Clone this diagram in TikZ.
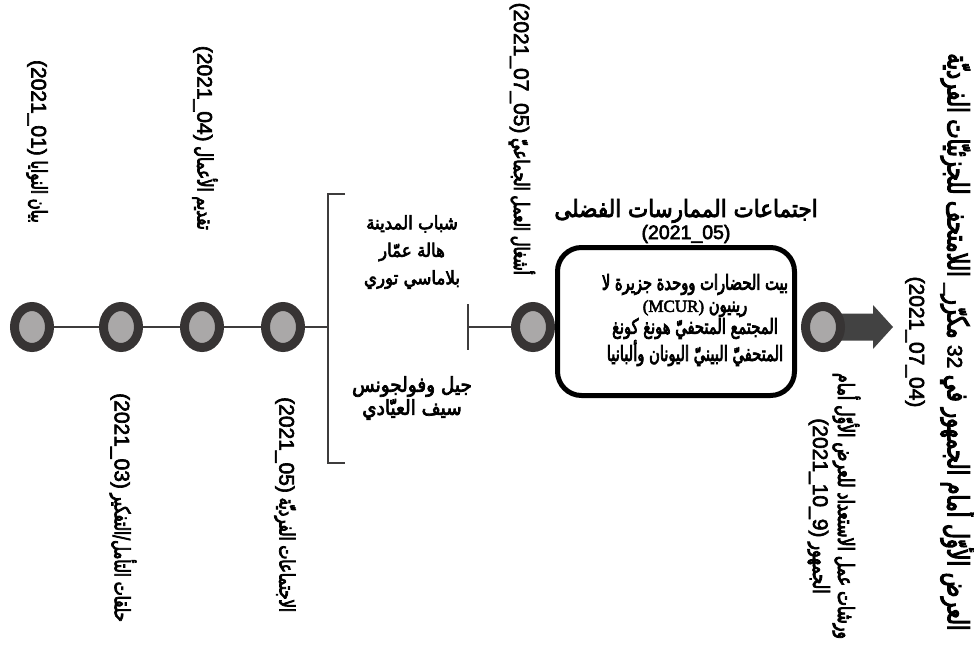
\documentclass[tikz,border=0pt]{standalone}
\usepackage{fontspec}
\newfontfamily\arabicfont[Script=Arabic, FakeBold=3.5, FakeStretch=0.7]{DejaVu Sans}
\newfontfamily\arabicwide[Script=Arabic, FakeBold=3.5, FakeStretch=0.9]{DejaVu Sans}
\newfontfamily\latinfont[FakeBold=3]{Liberation Sans}
\newfontfamily\seriffont[FakeBold=3]{Liberation Serif}
\TeXXeTstate=1
\usetikzlibrary{positioning,shapes.geometric}
\definecolor{ringgray}{RGB}{55,52,52}
\definecolor{dotgray}{RGB}{170,168,168}
\definecolor{linegray}{RGB}{62,60,60}
\definecolor{arrowgray}{RGB}{66,66,66}
\newcommand{\AR}[1]{\beginR #1\endR}
\newcommand{\DT}[1]{\beginL{\latinfont\fontsize{21}{22}\selectfont #1}\endL}

\begin{document}
\begin{tikzpicture}[
  x=1pt, y=-1pt,
  dot/.style={ellipse, draw=ringgray, line width=9pt, fill=dotgray, minimum width=35pt, minimum height=41pt, inner sep=0pt},
  tline/.style={draw=linegray, line width=2.5pt},
  vlabel/.style={rotate=-90, inner sep=0pt, font=\arabicfont\fontsize{21.2}{22}\selectfont},
  names/.style={align=center, inner sep=0pt, font=\arabicwide\fontsize{18.5}{27.5}\selectfont},
  bigbox/.style={draw=black, line width=5pt, rounded corners=24pt, minimum width=237pt, minimum height=148pt},
  boxtext/.style={align=center, inner sep=0pt, font=\arabicfont\fontsize{21}{22}\selectfont},
]
\useasboundingbox (0,0) rectangle (974,646);

% arrow behind the last dot
\coordinate (endpt) at (823,327);
\fill[arrowgray] (endpt) ++(0,-13.5) -- ++(50,0) -- ++(0,-8.5) -- ++(20,22) -- ++(-20,22) -- ++(0,-8.5) -- ++(-50,0) -- cycle;

% dots on the timeline
\node[dot] (d1) at (32,327) {};
\node[dot] (d2) at (121,327) {};
\node[dot] (d3) at (202,327) {};
\node[dot] (d4) at (283,327) {};
\node[dot] (d5) at (533,327) {};
\node[dot] (d6) at (endpt) {};

% bracket and T-bar
\coordinate (brk) at (328,327);
\coordinate (brtop) at (328,194);
\coordinate (brbot) at (328,463);
\coordinate (tbar) at (468,327);
\draw[tline] (d1) -- (d2) -- (d3) -- (d4) -- (brk);
\draw[tline] ([xshift=17pt]brtop) -- (brtop) -- (brbot) -- ([xshift=17pt]brbot);
\draw[tline] ([yshift=23pt]tbar) -- ([yshift=-23pt]tbar);
\draw[tline] (tbar) -- (d5);

% box
\node[bigbox] (box) at (676,321.5) {};
\node[boxtext] (boxtxt) at (695,320) {\AR{بيت الحضارات ووحدة جزيرة لا}\\\AR{رينيون \beginL{\seriffont\fontsize{17}{22}\selectfont (MCUR)}\endL}\\\AR{المجتمع المتحفيّ هونغ كونغ}\\\AR{المتحفيّ البينيّ اليونان وألبانيا}};
\node[names, font=\arabicwide\fontsize{23.8}{22}\selectfont] (bptitle) at (686,221) {\AR{اجتماعات الممارسات الفضلى}\\\beginL{\latinfont\fontsize{19.5}{22}\selectfont (2021\_05)}\endL};

% groups in the bracket
\node[names] (grpa) at (412,252) {\AR{شباب المدينة}\\\AR{هالة عمّار}\\\AR{بلاماسي توري}};
\node[names, font=\arabicwide\fontsize{20.5}{23}\selectfont] (grpb) at (412,398) {\AR{جيل وفولجونس}\\\AR{سيف العيّادي}};

% vertical labels
\node[vlabel, anchor=east] (l1) at (37,223) {\AR{بيان النوايا \DT{(2021\_01)}}};
\node[vlabel, anchor=west] (l2) at (123,393) {\AR{حلقات التأمل/التفكير \DT{(2021\_03)}}};
\node[vlabel, anchor=east] (l3) at (205,230) {\AR{تقديم الأعمال \DT{(2021\_04)}}};
\node[vlabel, anchor=west] (l4) at (285,397) {\AR{الاجتماعات الفرديّة \DT{(2021\_05)}}};
\node[vlabel, anchor=east] (l5) at (522,275) {\AR{أشغال العمل الجماعيّ \DT{(2021\_07\_05)}}};
\node[vlabel, align=center, font=\arabicfont\fontsize{29.3}{32}\selectfont] (show) at (941,342) {\AR{العرض الأوّل أمام الجمهور في \DT{32} مكرّر\DT{\_} اللامتحف للجزئيّات الفرديّة}\\[6pt]\DT{(2021\_07\_04)}};
\node[vlabel, align=center, font=\arabicfont\fontsize{22.4}{25}\selectfont] (prep) at (834,506) {\AR{ورشات عمل الاستعداد للعرض الأوّل أمام}\\\AR{الجمهور \DT{(2021\_10\_9)}}};
\end{tikzpicture}
\end{document}
